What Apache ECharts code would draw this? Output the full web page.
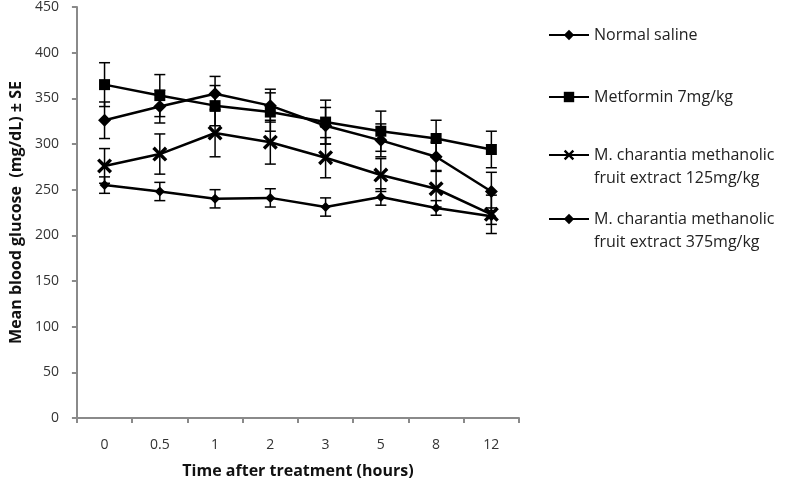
<!DOCTYPE html>
<html>
<head>
<meta charset="utf-8">
<script src="https://cdn.jsdelivr.net/npm/echarts@6/dist/echarts.min.js"></script>
<style>html,body{margin:0;padding:0;background:#fff;}#c{width:791px;height:484px;}</style>
</head>
<body>
<div id="c"></div>
<script>
const categories = ['0', '0.5', '1', '2', '3', '5', '8', '12'];
const yTicks = { min: 0, max: 450, interval: 50 };
const names = [
  'Normal saline',
  'Metformin 7mg/kg',
  'M. charantia methanolic\nfruit extract 125mg/kg',
  'M. charantia methanolic\nfruit extract 375mg/kg'
];
const saline      = [255, 248, 240, 241, 231, 242, 230, 221];
const salineSE    = [9, 10, 10, 10, 10, 9, 8, 9];
const metformin   = [365, 353, 342, 335, 324, 314, 306, 294];
const metforminSE = [24, 23, 22, 21, 24, 22, 20, 20];
const ext125      = [276, 289, 312, 302, 285, 266, 251, 223];
const ext125SE    = [19, 22, 26, 24, 22, 18, 20, 21];
const ext375      = [326, 341, 355, 342, 320, 304, 286, 248];
const ext375SE    = [20, 18, 19, 18, 20, 18, 16, 21];

const FONT = 'Open Sans';
const xPath = 'path://M0,1.6L1.6,0L5,3.4L8.4,0L10,1.6L6.6,5L10,8.4L8.4,10L5,6.6L1.6,10L0,8.4L3.4,5Z';

function errData(vals, se) { return vals.map((v, i) => [i, v, se[i]]); }

function errSeries(vals, se) {
  return {
    type: 'custom',
    silent: true,
    z: 1,
    data: errData(vals, se),
    renderItem: function (params, api) {
      const i = api.value(0), v = api.value(1), e = api.value(2);
      const hi = api.coord([i, v + e]);
      const lo = api.coord([i, v - e]);
      const w = 5.5;
      const st = { stroke: '#000', lineWidth: 1.5 };
      return {
        type: 'group',
        children: [
          { type: 'line', shape: { x1: hi[0], y1: hi[1], x2: lo[0], y2: lo[1] }, style: st },
          { type: 'line', shape: { x1: hi[0] - w, y1: hi[1], x2: hi[0] + w, y2: hi[1] }, style: st },
          { type: 'line', shape: { x1: lo[0] - w, y1: lo[1], x2: lo[0] + w, y2: lo[1] }, style: st }
        ]
      };
    }
  };
}

function lineSeries(name, vals, symbol, size) {
  return {
    name: name,
    type: 'line',
    data: vals,
    symbol: symbol,
    symbolSize: size,
    z: 3,
    lineStyle: { color: '#000', width: 2.5 },
    itemStyle: { color: '#000', borderColor: '#000', borderWidth: 0 },
    emphasis: { disabled: true },
    animation: false
  };
}

function legendAt(name, center, multi) {
  const lh = 23;
  const h = multi ? lh * 3 : lh;
  return {
    data: [name],
    orient: 'vertical',
    left: 548,
    top: center - h / 2,
    padding: 0,
    itemWidth: 40,
    itemHeight: 13,
    selectedMode: false,
    formatter: multi ? function (n) { return ' \n' + n; } : '{name}',
    textStyle: {
      fontFamily: FONT, fontSize: 16, color: '#222',
      lineHeight: lh
    }
  };
}

const chart = echarts.init(document.getElementById('c'), null, { renderer: 'canvas' });
chart.setOption({
  animation: false,
  backgroundColor: '#fff',
  grid: { left: 74, right: 272, top: 4, bottom: 66 },
  legend: [
    legendAt(names[0], 35, false),
    legendAt(names[1], 97, false),
    legendAt(names[2], 155, true),
    legendAt(names[3], 219, true)
  ],
  xAxis: {
    type: 'category',
    data: categories,
    boundaryGap: true,
    name: 'Time after treatment (hours)',
    nameLocation: 'middle',
    nameGap: 45,
    nameTextStyle: { fontFamily: FONT, fontSize: 16, fontWeight: 'bold', color: '#111' },
    axisLine: { lineStyle: { color: '#8a8a8a', width: 2 } },
    axisTick: { show: true, inside: false, length: 5, lineStyle: { color: '#8a8a8a', width: 2 } },
    axisLabel: { fontFamily: FONT, fontSize: 14, color: '#333', margin: 20 },
    splitLine: { show: false }
  },
  yAxis: {
    type: 'value',
    min: yTicks.min, max: yTicks.max, interval: yTicks.interval,
    name: 'Mean blood glucose  (mg/dL) \u00b1 SE',
    nameLocation: 'middle',
    nameGap: 52,
    nameTextStyle: { fontFamily: FONT, fontSize: 16, fontWeight: 'bold', color: '#111' },
    axisLine: { show: true, lineStyle: { color: '#8a8a8a', width: 2 } },
    axisTick: { show: true, inside: false, length: 5, lineStyle: { color: '#8a8a8a', width: 2 } },
    axisLabel: { fontFamily: FONT, fontSize: 14, color: '#333', margin: 18 },
    splitLine: { show: false }
  },
  series: [
    errSeries(saline, salineSE),
    errSeries(metformin, metforminSE),
    errSeries(ext125, ext125SE),
    errSeries(ext375, ext375SE),
    lineSeries(names[0], saline, 'diamond', 10),
    lineSeries(names[1], metformin, 'rect', 11),
    lineSeries(names[2], ext125, xPath, 15),
    lineSeries(names[3], ext375, 'diamond', 13)
  ]
});
</script>
</body>
</html>
